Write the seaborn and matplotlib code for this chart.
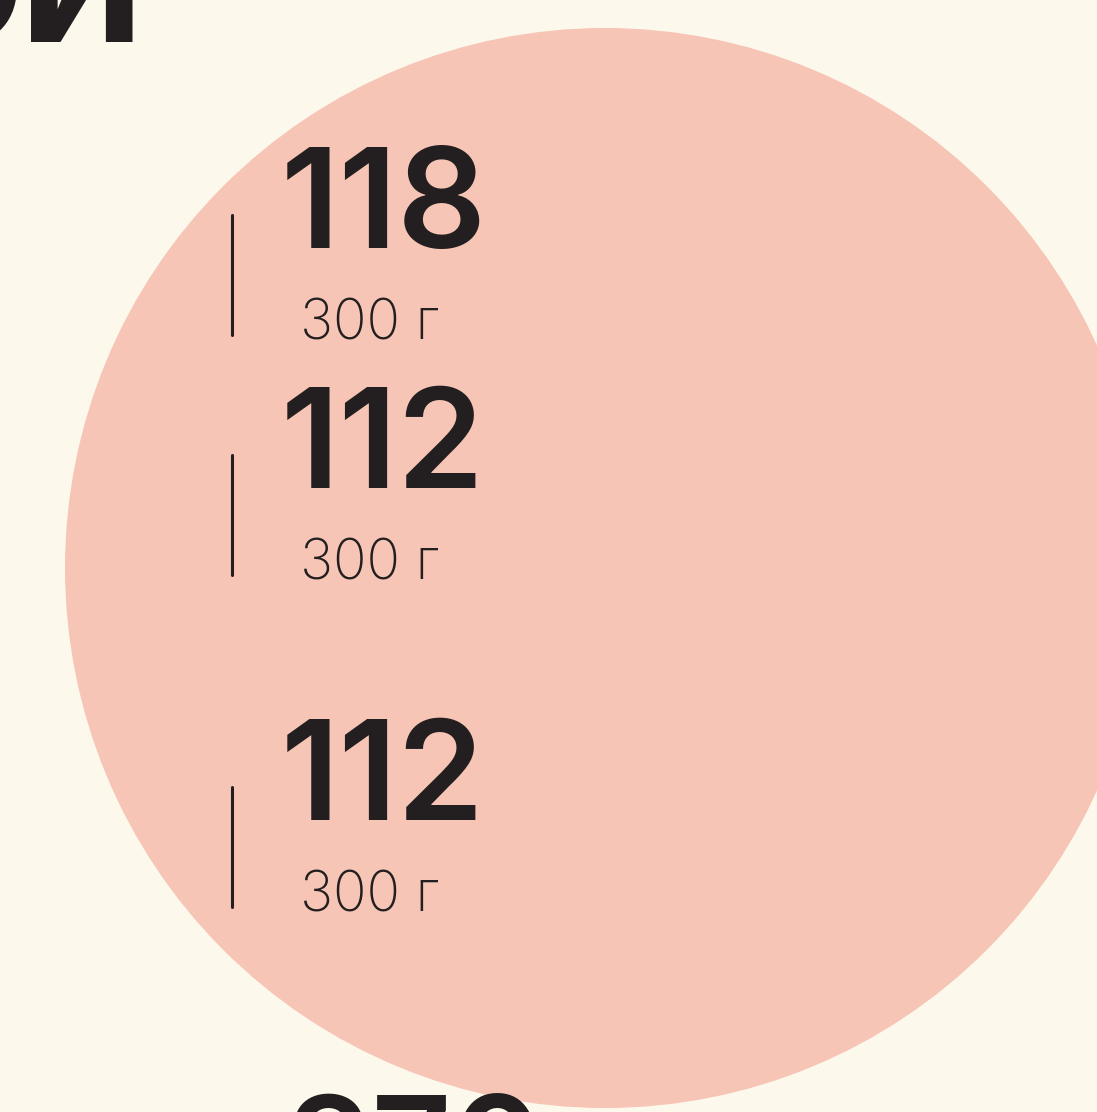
import matplotlib
matplotlib.use("Agg")
import matplotlib.pyplot as plt
import seaborn as sns
from matplotlib.patches import Circle

# data
prices = ["118", "112", "112"]
weights = ["300 г", "300 г", "300 г"]
header_text = "ОИ"
footer_text = "270"

BG = "#FCF9EC"
PINK = "#F7C5B5"
INK = "#231F20"

sns.set_theme(style="white")
plt.rcParams["font.family"] = ["Inter", "DejaVu Sans"]

W, H = 1097, 1112
fig = plt.figure(figsize=(W / 100, H / 100), dpi=100, facecolor=BG)
ax = fig.add_axes([0, 0, 1, 1])
ax.set_facecolor(BG)
ax.set_xlim(0, W)
ax.set_ylim(H, 0)
ax.axis("off")

ax.add_patch(Circle((605, 568), 540, color=PINK, zorder=1, lw=0))

price_base = [248, 488, 820]
weight_base = [340, 580, 911]
for p, w, pb, wb in zip(prices, weights, price_base, weight_base):
    ax.text(281, pb, p, fontsize=100, fontweight="semibold", color=INK,
            ha="left", va="baseline", zorder=3)
    ax.text(300, wb, w, fontsize=40, fontweight="light", color=INK,
            ha="left", va="baseline", zorder=3)
    ax.plot([232, 232], [pb - 33, pb + 87], color=INK, lw=2.2, zorder=3)

ax.text(-97, 42, header_text, fontsize=112, fontweight="heavy", color=INK,
        ha="left", va="baseline", zorder=3)
ax.text(285, 1196, footer_text, fontsize=100, fontweight="semibold", color=INK,
        ha="left", va="baseline", zorder=3)

fig.savefig("out.png", dpi=100, facecolor=BG)
